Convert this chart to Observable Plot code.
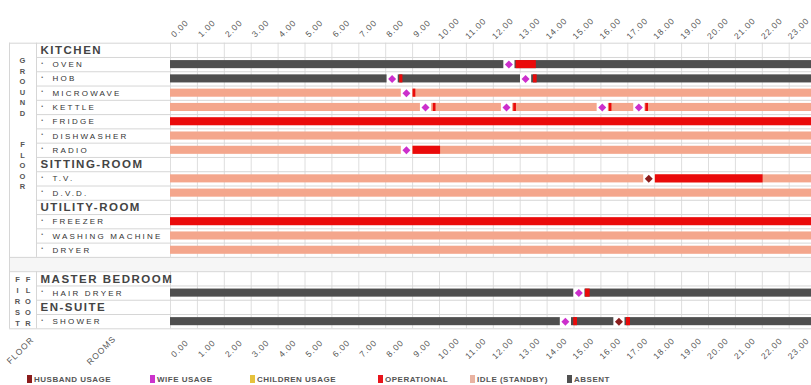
<!DOCTYPE html>
<html><head><meta charset="utf-8">
<script src="https://cdn.jsdelivr.net/npm/d3@7"></script>
<script src="https://cdn.jsdelivr.net/npm/@observablehq/plot@0.6"></script>
<style>
body{margin:0;background:#fff;font-family:"Liberation Sans",Arial,sans-serif;}
#wrap{position:relative;width:811px;height:385px;overflow:hidden;}
#legend{position:absolute;left:0;top:375px;width:811px;height:10px;}
.li{position:absolute;top:0;font-size:8px;font-weight:bold;color:#555;letter-spacing:0.5px;white-space:nowrap;line-height:9px;}
.li .sw{display:inline-block;width:5px;height:8px;margin-right:2px;vertical-align:-1px;}
</style>
</head><body>
<div id="wrap"><div id="chart"></div><div id="legend"></div></div>
<script>
// ---------- DATA ----------
const rowLabels = ["KITCHEN","OVEN","HOB","MICROWAVE","KETTLE","FRIDGE","DISHWASHER","RADIO",
  "SITTING-ROOM","T.V.","D.V.D.","UTILITY-ROOM","FREEZER","WASHING MACHINE","DRYER","",
  "MASTER BEDROOM","HAIR DRYER","EN-SUITE","SHOWER"];
const roomHeaders = ["KITCHEN","SITTING-ROOM","UTILITY-ROOM","MASTER BEDROOM","EN-SUITE"];
const appliances = ["OVEN","HOB","MICROWAVE","KETTLE","FRIDGE","DISHWASHER","RADIO","T.V.","D.V.D.",
  "FREEZER","WASHING MACHINE","DRYER","HAIR DRYER","SHOWER"];
const baseState = ["absent","absent","idle","idle","operational","idle","idle","idle","idle",
  "operational","idle","idle","absent","absent"];
// operational periods (hours)
const opAppliance = ["OVEN","HOB","HOB","MICROWAVE","KETTLE","KETTLE","KETTLE","KETTLE","RADIO","T.V.","HAIR DRYER","SHOWER","SHOWER"];
const opStart     = [12.85, 8.52, 13.49, 9.02, 9.77, 12.76, 16.31, 17.67, 9.02, 18.03, 15.43, 14.99, 16.95];
const opEnd       = [13.60, 8.64, 13.63, 9.12, 9.87, 12.86, 16.41, 17.77, 10.04, 22.03, 15.60, 15.13, 17.10];
// usage events (who started the appliance, hour)
const useAppliance = ["OVEN","HOB","HOB","MICROWAVE","KETTLE","KETTLE","KETTLE","KETTLE","RADIO","T.V.","HAIR DRYER","SHOWER","SHOWER"];
const useWho       = ["wife","wife","wife","wife","wife","wife","wife","wife","wife","husband","wife","wife","husband"];
const useTime      = [12.58, 8.24, 13.20, 8.77, 9.48, 12.49, 16.05, 17.41, 8.77, 17.78, 15.18, 14.68, 16.67];
const hourLabels = ["0.00","1.00","2.00","3.00","4.00","5.00","6.00","7.00","8.00","9.00","10.00","11.00",
  "12.00","13.00","14.00","15.00","16.00","17.00","18.00","19.00","20.00","21.00","22.00","23.00"];
const floorGround = "G\nR\nO\nU\nN\nD\n\n\nF\nL\nO\nO\nR";
const floorFirstA = "F\nI\nR\nS\nT";
const floorFirstB = "F\nL\nO\nO\nR";
const bottomLabels = ["FLOOR","ROOMS"];
const legendKeys = ["husband","wife","children","operational","idle","absent"];
const legendNames = ["HUSBAND USAGE","WIFE USAGE","CHILDREN USAGE","OPERATIONAL","IDLE (STANDBY)","ABSENT"];
const legendColors = ["#8b1c1c","#cc33cc","#e6c23c","#e8141b","#e9b3a2","#505050"];

// ---------- LAYOUT ----------
const PX0 = 170, HOURW = 26.9, ROW0 = 42.7, ROWH = 14.28;
const hx = px => (px - PX0) / HOURW;
const ry = py => (py - ROW0) / ROWH;
const NR = rowLabels.length;
const gapRow = rowLabels.indexOf("");
const stateColor = {husband:"#8b1c1c", wife:"#cc2ecc", children:"#e6c23c", operational:"#ea0a0a", idle:"#f4a68c", absent:"#4f4f4f"};

const bars = appliances.map((a,i)=>({row: rowLabels.indexOf(a), state: baseState[i], x1:0, x2:24}))
  .concat(opAppliance.map((a,i)=>({row: rowLabels.indexOf(a), state:"operational", x1: opStart[i], x2: opEnd[i]})));
const uses = useAppliance.map((a,i)=>({row: rowLabels.indexOf(a), who: useWho[i], t: useTime[i]}));
const headers = roomHeaders.map(r=>({row: rowLabels.indexOf(r), text: r}));
const items = appliances.map(a=>({row: rowLabels.indexOf(a), text: a}));
const outerLine = d => d===0 || d===gapRow || d===gapRow+1 || d===NR;

const plot = Plot.plot({
  width: 811, height: 372,
  x: {domain:[0,24], range:[PX0, PX0 + 24*HOURW], axis:null},
  y: {domain:[0,NR], range:[ROW0, ROW0 + NR*ROWH], axis:null},
  color: {domain: Object.keys(stateColor), range: Object.values(stateColor)},
  style: {fontFamily:'"Liberation Sans", Arial, sans-serif', background:"white", overflow:"hidden"},
  marks: [
    Plot.rect([gapRow], {x1: hx(9), x2: 24, y1: d=>d, y2: d=>d+1, fill:"#f6f6f6"}),
    Plot.ruleX(d3.range(0,25), {y1:0, y2:gapRow, stroke:"#dedede"}),
    Plot.ruleX(d3.range(0,25), {y1:gapRow+1, y2:NR, stroke:"#dedede"}),
    Plot.ruleY(d3.range(0,NR+1), {x1: d => outerLine(d) ? hx(9) : hx(36), x2: 24, stroke:"#d6d6d6"}),
    Plot.ruleX([hx(9)], {y1:0, y2:NR, stroke:"#d6d6d6"}),
    Plot.ruleX([hx(36)], {y1:0, y2:gapRow, stroke:"#d6d6d6"}),
    Plot.ruleX([hx(36)], {y1:gapRow+1, y2:NR, stroke:"#d6d6d6"}),
    Plot.rect(bars, {x1:"x1", x2:"x2", y1:"row", y2: d=>d.row+1, insetTop:3.1, insetBottom:3.1, fill:"state"}),
    Plot.dot(uses, {x:"t", y: d=>d.row+0.5, symbol:"square", r:6.3, fill:"white"}),
    Plot.dot(uses, {x:"t", y: d=>d.row+0.5, symbol:"diamond2", r:3.6, fill:"who"}),
    Plot.text(headers, {x: hx(40), y: d=>d.row+0.5, text:"text", textAnchor:"start", fontSize:11.5, fontWeight:"bold", fill:"#444"}),
    Plot.text(items, {x: hx(41.5), y: d=>d.row+0.4, text: ()=>"•", fontSize:5, fill:"#555"}),
    Plot.text(items, {x: hx(52), y: d=>d.row+0.5, text:"text", textAnchor:"start", fontSize:8, fill:"#333"}),
    Plot.text([floorGround], {x: hx(22), y: ry(122.3), text: d=>d, fontSize:7.5, lineHeight:1.4, fill:"#555", fontWeight:"bold"}),
    Plot.text([floorFirstA, floorFirstB], {x: (d,i)=> i ? hx(28) : hx(17), y: ry(300), text: d=>d, fontSize:7.5, lineHeight:1.47, fill:"#555", fontWeight:"bold"}),
    Plot.text(hourLabels, {x: (d,i)=>i+0.5, y: ry(28), text: d=>d, rotate:-45, fontSize:8.5, fill:"#555", dx:-4}),
    Plot.text(hourLabels, {x: (d,i)=>i+0.5, y: ry(348), text: d=>d, rotate:-45, fontSize:8.5, fill:"#555", dx:-4}),
    Plot.text(bottomLabels, {x: (d,i)=> i ? hx(101) : hx(20), y: ry(350), text: d=>d, rotate:-45, fontSize:8.5, fill:"#555"})
  ]
});
// letter spacing by text role
const spacing = new Map();
roomHeaders.forEach(t => spacing.set(t, "1.5px"));
appliances.forEach(t => spacing.set(t, "2.2px"));
hourLabels.concat(bottomLabels).forEach(t => spacing.set(t, "1px"));
d3.select(plot).selectAll("text").each(function(){
  const s = spacing.get(this.textContent);
  if (s) this.setAttribute("letter-spacing", s);
});
document.getElementById("chart").appendChild(plot);

const legendX = [27, 150, 250, 378, 470, 567];
const lg = document.getElementById("legend");
legendKeys.forEach((k,i)=>{
  const d = document.createElement("div");
  d.className = "li";
  d.style.left = legendX[i] + "px";
  d.innerHTML = `<span class="sw" style="background:${legendColors[i]}"></span>${legendNames[i]}`;
  lg.appendChild(d);
});
</script>
</body></html>
